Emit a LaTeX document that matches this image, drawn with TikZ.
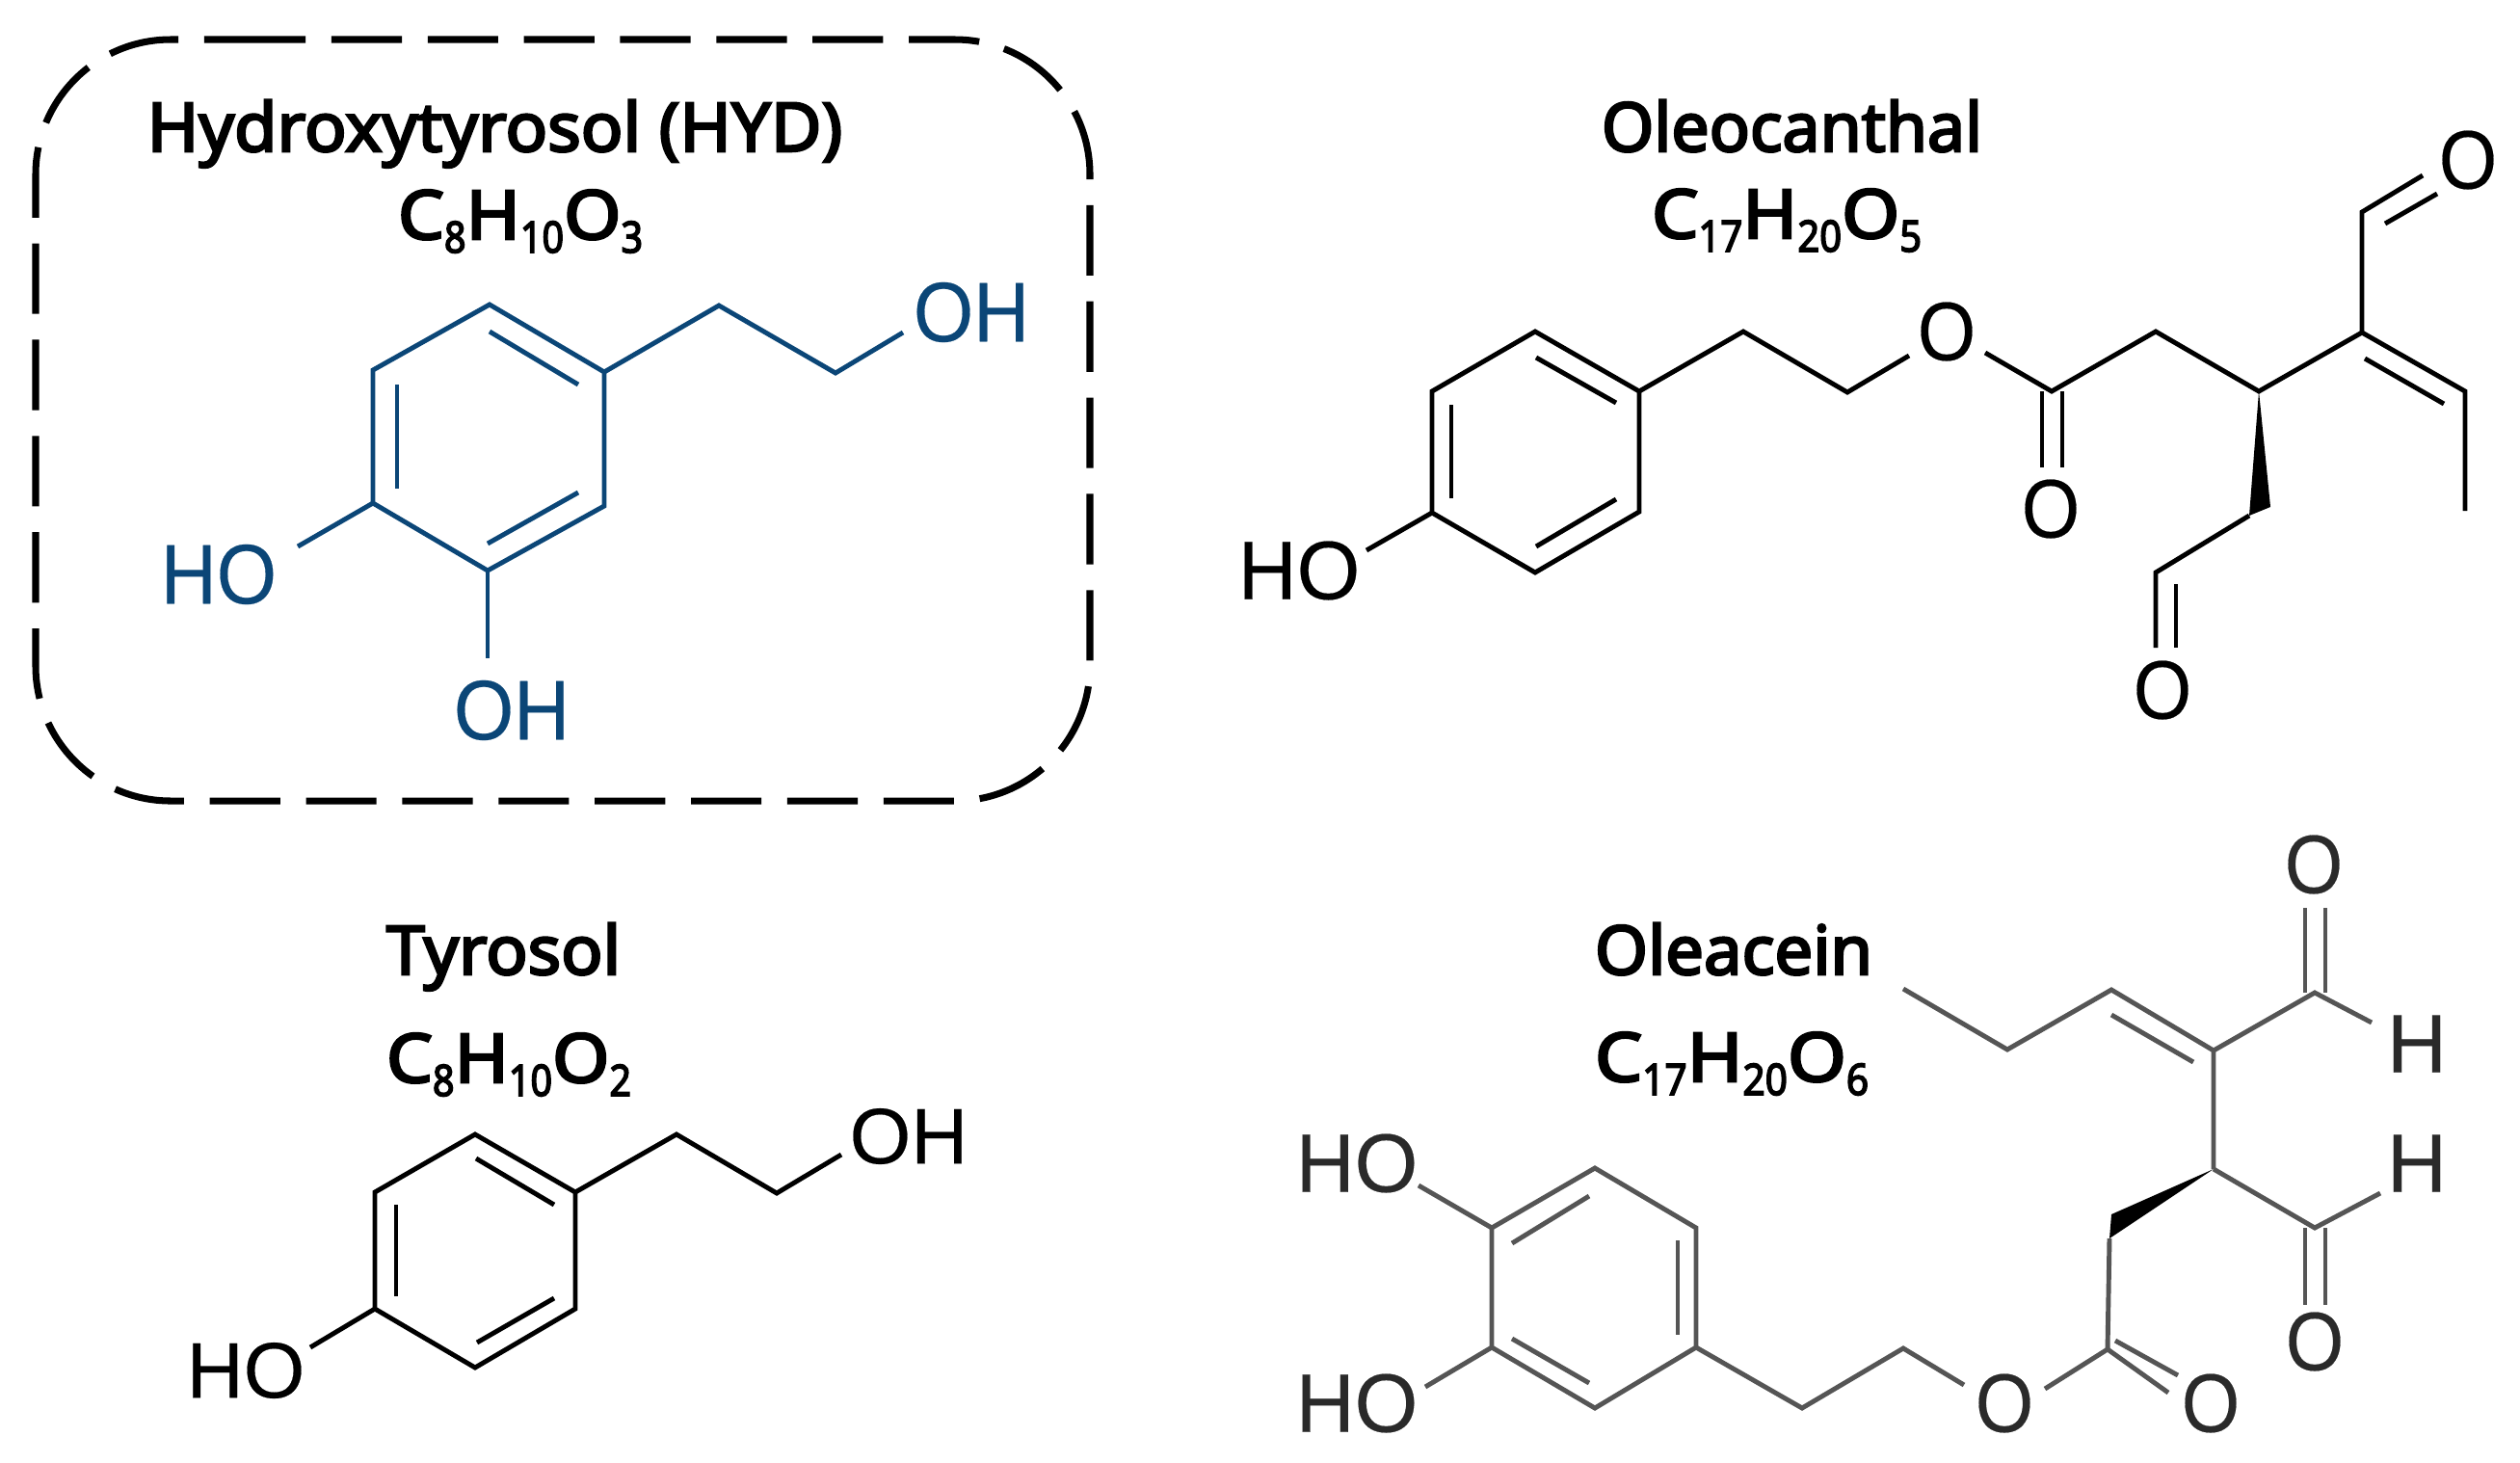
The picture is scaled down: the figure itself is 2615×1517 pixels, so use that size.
\documentclass[tikz,border=0pt]{standalone}
\usepackage{fontspec}
\usepackage{graphicx}
\setmainfont{Liberation Sans}
\newfontfamily\titlefont[FakeBold=3.6]{Noto Sans}
\newfontfamily\atomfont[FakeBold=0.25]{Liberation Sans}
\definecolor{hydblue}{HTML}{0B4677}
\definecolor{greybond}{HTML}{555555}
\definecolor{greytext}{HTML}{2A2A2A}
\newcommand{\sbs}[1]{\raisebox{-.2em}{\scalebox{.52}[.64]{#1}}}
\newcommand{\fitw}[2]{\resizebox{#1cm}{\height}{#2}}
\tikzset{
  bond/.style={line width=1.4pt,line join=miter,line cap=butt},
  atomlabel/.style={inner sep=0pt,font=\fontsize{24.5}{24.5}\selectfont\atomfont},
  titlelabel/.style={inner sep=0pt,anchor=base,font=\fontsize{20}{20}\selectfont\titlefont},
}
\begin{document}
\begin{tikzpicture}[x=0.01cm,y=-0.01cm]
\useasboundingbox (0,0) rectangle (2615,1517);
% dashed frame
\coordinate (fa) at (244,41);
\coordinate (fb) at (1131,41);
\coordinate (fc) at (1131,831);
\coordinate (fd) at (37,831);
\coordinate (fe) at (37,41);
\draw[line width=2pt,dash pattern=on 20.8pt off 7.6pt,rounded corners=1.4cm]
  (fa) -- (fb) -- (fc) -- (fd) -- (fe) -- (fa);

% titles
\node[titlelabel] (t1) at (513.5,157) {\fitw{7.21}{Hydroxytyrosol (HYD)}};
\node[titlelabel] (f1) at (540,248) {\fitw{2.54}{C\sbs{8}H\sbs{10}O\sbs{3}}};
\node[titlelabel] (t2) at (1859.5,157) {\fitw{3.95}{Oleocanthal}};
\node[titlelabel] (f2) at (1854,247) {\fitw{2.80}{C\sbs{17}H\sbs{20}O\sbs{5}}};
\node[titlelabel] (t3) at (522.5,1011) {\fitw{2.43}{Tyrosol}};
\node[titlelabel] (f3) at (528,1123) {\fitw{2.54}{C\sbs{8}H\sbs{10}O\sbs{2}}};
\node[titlelabel] (t4) at (1799,1011) {\fitw{2.88}{Oleacein}};
\node[titlelabel] (f4) at (1797,1122) {\fitw{2.84}{C\sbs{17}H\sbs{20}O\sbs{6}}};

% ---------- Hydroxytyrosol
\begin{scope}[hydblue]
\node[atomlabel,text=hydblue] (aOH) at (1008,324) {\scalebox{.93}[1.02]{OH}};
\node[atomlabel,text=hydblue] (aHO) at (227,596) {\scalebox{.93}[1.02]{HO}};
\node[atomlabel,text=hydblue] (aOHb) at (531,737) {\scalebox{.93}[1.02]{OH}};
\coordinate (a1) at (508,316);
\coordinate (a2) at (627,386);
\coordinate (a3) at (627,525);
\coordinate (a4) at (506,592);
\coordinate (a5) at (387,522);
\coordinate (a6) at (387,384);
\coordinate (a7) at (746,317);
\coordinate (a8) at (867,387);
\coordinate (a9) at (937,345);
\coordinate (a10) at (309,567);
\coordinate (a11) at (506,683);
\coordinate (ai1) at (508,344); \coordinate (ai2) at (600,399);
\coordinate (ai3) at (412,399); \coordinate (ai4) at (412,507);
\coordinate (ai5) at (506,564); \coordinate (ai6) at (600,511);
\draw[bond,hydblue] (a1) -- (a2) -- (a3) -- (a4) -- (a5) -- (a6) -- cycle;
\draw[bond,hydblue] (a2) -- (a7) -- (a8) -- (a9);
\draw[bond,hydblue] (a5) -- (a10);
\draw[bond,hydblue] (a4) -- (a11);
\draw[bond,hydblue] (ai1) -- (ai2);
\draw[bond,hydblue] (ai3) -- (ai4);
\draw[bond,hydblue] (ai5) -- (ai6);
\end{scope}

% ---------- Oleocanthal
\node[atomlabel] (bHO) at (1348,592) {\scalebox{.98}[1]{HO}};
\node[atomlabel] (bO1) at (2020,344) {\scalebox{.9}[1]{O}};
\node[atomlabel] (bO2) at (2128,528) {\scalebox{.9}[1]{O}};
\node[atomlabel] (bO3) at (2244,716) {\scalebox{.9}[1]{O}};
\node[atomlabel] (bO4) at (2561,166) {\scalebox{.9}[1]{O}};
\coordinate (b1) at (1593,344);
\coordinate (b2) at (1701,406);
\coordinate (b3) at (1701,531);
\coordinate (b4) at (1593,594);
\coordinate (b5) at (1486,532);
\coordinate (b6) at (1486,406);
\coordinate (bi1) at (1594,371); \coordinate (bi2) at (1677,418);
\coordinate (bi3) at (1506,420); \coordinate (bi4) at (1506,517);
\coordinate (bi5) at (1594,567); \coordinate (bi6) at (1677,518);
\coordinate (b7) at (1809,344);
\coordinate (b8) at (1917,407);
\coordinate (b9) at (1981,369);
\coordinate (b10) at (2060,366);
\coordinate (b11) at (2129,406);
\coordinate (b12) at (2237,344);
\coordinate (b13) at (2344,406);
\coordinate (b14) at (2451,345);
\coordinate (b15) at (2558,406);
\coordinate (b16) at (2558,530);
\coordinate (b17) at (2454,372); \coordinate (b18) at (2536,419);
\coordinate (b19) at (2451,220);
\coordinate (b20) at (2514,182);
\coordinate (b21) at (2475,232); \coordinate (b22) at (2529,201);
\coordinate (b23) at (2119,406); \coordinate (b24) at (2119,485);
\coordinate (b25) at (2140,406); \coordinate (b26) at (2140,485);
\coordinate (b27) at (2334,535); \coordinate (b28) at (2356,526);
\coordinate (b29) at (2237,594);
\coordinate (b30) at (2237,672);
\coordinate (b31) at (2258,606); \coordinate (b32) at (2258,672);
\coordinate (b33) at (1418,571);
\draw[bond] (b1) -- (b2) -- (b3) -- (b4) -- (b5) -- (b6) -- cycle;
\draw[bond] (bi1) -- (bi2);
\draw[bond] (bi3) -- (bi4);
\draw[bond] (bi5) -- (bi6);
\draw[bond] (b2) -- (b7) -- (b8) -- (b9);
\draw[bond] (b10) -- (b11) -- (b12) -- (b13) -- (b14) -- (b15) -- (b16);
\draw[bond] (b17) -- (b18);
\draw[bond] (b14) -- (b19) -- (b20);
\draw[bond] (b21) -- (b22);
\draw[bond] (b23) -- (b24);
\draw[bond] (b25) -- (b26);
\fill (b13) -- (b28) -- (b27) -- cycle;
\draw[bond] (b27) -- (b29) -- (b30);
\draw[bond] (b31) -- (b32);
\draw[bond] (b5) -- (b33);

% ---------- Tyrosol
\node[atomlabel] (cOH) at (943,1179) {\scalebox{.95}[.95]{OH}};
\node[atomlabel] (cHO) at (255,1422) {\scalebox{.95}[.95]{HO}};
\coordinate (c1) at (493,1177);
\coordinate (c2) at (597,1237);
\coordinate (c3) at (597,1358);
\coordinate (c4) at (493,1419);
\coordinate (c5) at (389,1358);
\coordinate (c6) at (389,1237);
\coordinate (ci1) at (494,1202); \coordinate (ci2) at (575,1250);
\coordinate (ci3) at (411,1250); \coordinate (ci4) at (411,1345);
\coordinate (ci5) at (495,1393); \coordinate (ci6) at (575,1347);
\coordinate (c7) at (702,1177);
\coordinate (c8) at (806,1238);
\coordinate (c9) at (873,1198);
\coordinate (c10) at (322,1398);
\draw[bond] (c1) -- (c2) -- (c3) -- (c4) -- (c5) -- (c6) -- cycle;
\draw[bond] (ci1) -- (ci2);
\draw[bond] (ci3) -- (ci4);
\draw[bond] (ci5) -- (ci6);
\draw[bond] (c2) -- (c7) -- (c8) -- (c9);
\draw[bond] (c5) -- (c10);

% ---------- Oleacein
\node[atomlabel,text=greytext] (dHO1) at (1408,1207) {\scalebox{.98}[1]{HO}};
\node[atomlabel,text=greytext] (dHO2) at (1408,1456) {\scalebox{.98}[1]{HO}};
\node[atomlabel,text=greytext] (dO1) at (2080,1456) {\scalebox{.9}[1]{O}};
\node[atomlabel,text=greytext] (dO2) at (2294,1456) {\scalebox{.9}[1]{O}};
\node[atomlabel,text=greytext] (dO3) at (2402,1392) {\scalebox{.9}[1]{O}};
\node[atomlabel,text=greytext] (dO4) at (2401,897) {\scalebox{.9}[1]{O}};
\node[atomlabel,text=greytext] (dH1) at (2508,1207) {H};
\node[atomlabel,text=greytext] (dH2) at (2508,1083) {H};
\coordinate (d1) at (1655,1212);
\coordinate (d2) at (1760,1274);
\coordinate (d3) at (1760,1398);
\coordinate (d4) at (1655,1461);
\coordinate (d5) at (1548,1398);
\coordinate (d6) at (1548,1274);
\coordinate (di1) at (1649,1241); \coordinate (di2) at (1569,1290);
\coordinate (di3) at (1741,1287); \coordinate (di4) at (1741,1385);
\coordinate (di5) at (1649,1435); \coordinate (di6) at (1569,1389);
\coordinate (d7) at (1870,1461);
\coordinate (d8) at (1975,1399);
\coordinate (d9) at (2038,1437);
\coordinate (d10) at (2122,1441);
\coordinate (d11) at (2187,1400);
\coordinate (d12) at (2250,1445);
\coordinate (d13) at (2195,1391); \coordinate (d14) at (2260,1427);
\coordinate (d15) at (2189,1285);
\coordinate (d16) at (2297,1213);
\coordinate (d17) at (2191,1260);
\coordinate (d18) at (2297,1090);
\coordinate (d19) at (2402,1274);
\coordinate (d20) at (2470,1238);
\coordinate (d21) at (2392,1274); \coordinate (d22) at (2392,1354);
\coordinate (d23) at (2413,1274); \coordinate (d24) at (2413,1354);
\coordinate (d25) at (2402,1030);
\coordinate (d26) at (2461,1061);
\coordinate (d27) at (2392,1030); \coordinate (d28) at (2392,942);
\coordinate (d29) at (2413,1030); \coordinate (d30) at (2413,942);
\coordinate (d31) at (2191,1027);
\coordinate (d32) at (2276,1102); \coordinate (d33) at (2191,1053);
\coordinate (d34) at (2083,1089);
\coordinate (d35) at (1975,1026);
\coordinate (d36) at (1472,1230);
\coordinate (d37) at (1479,1439);
\begin{scope}[greybond]
\draw[bond,greybond] (d1) -- (d2) -- (d3) -- (d4) -- (d5) -- (d6) -- cycle;
\draw[bond,greybond] (di1) -- (di2);
\draw[bond,greybond] (di3) -- (di4);
\draw[bond,greybond] (di5) -- (di6);
\draw[bond,greybond] (d3) -- (d7) -- (d8) -- (d9);
\draw[bond,greybond] (d10) -- (d11) -- (d12);
\draw[bond,greybond] (d13) -- (d14);
\draw[bond,greybond] (d11) -- (d15);
\fill[black] (d16) -- (d17) -- (d15) -- cycle;
\draw[bond,greybond] (d16) -- (d18) -- (d25) -- (d26);
\draw[bond,greybond] (d16) -- (d19) -- (d20);
\draw[bond,greybond] (d21) -- (d22);
\draw[bond,greybond] (d23) -- (d24);
\draw[bond,greybond] (d27) -- (d28);
\draw[bond,greybond] (d29) -- (d30);
\draw[bond,greybond] (d18) -- (d31) -- (d34) -- (d35);
\draw[bond,greybond] (d32) -- (d33);
\draw[bond,greybond] (d6) -- (d36);
\draw[bond,greybond] (d5) -- (d37);
\end{scope}
\end{tikzpicture}
\end{document}
